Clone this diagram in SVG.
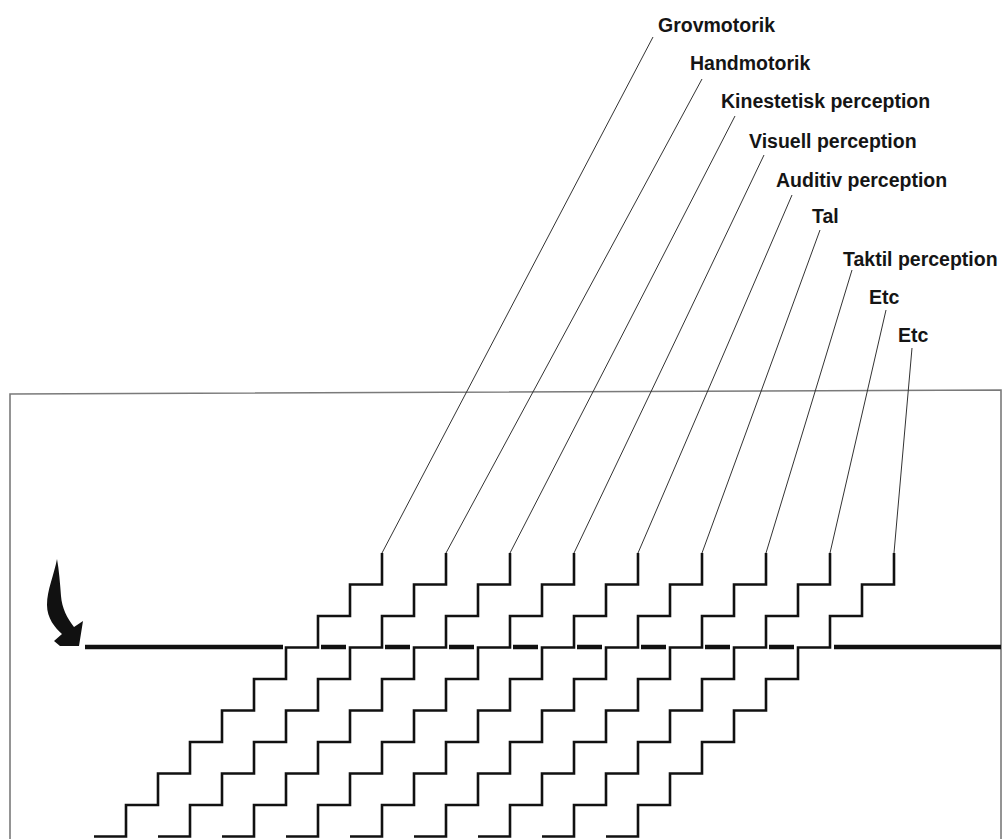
<svg xmlns="http://www.w3.org/2000/svg" xmlns:xlink="http://www.w3.org/1999/xlink" width="1005" height="839" viewBox="0 0 1005 839">
<style>
.lbl{font-family:"Liberation Sans",Arial,sans-serif;font-weight:bold;font-size:19.5px;fill:#151515}
.stair{fill:none;stroke:#111;stroke-width:2.6;stroke-linejoin:miter}
.lead{stroke:#333;stroke-width:1;fill:none}
.thick{stroke:#111;stroke-width:4.5;fill:none}
.frame{stroke:#7a7a7a;stroke-width:1.6;fill:none}
</style>
<defs>
<path id="st" d="M0,553 v31.5 h-32 v31.5 h-32 v31.5 h-32 v31.5 h-32 v31.5 h-32 v31.5 h-32 v31.5 h-32 v31.5 h-32 v31.5 h-32"/>
</defs>
<rect width="1005" height="839" fill="#fff"/>
<g id="frame">
<path class="frame" d="M10,839 V394 L1001,390 V839"/>
</g>
<g id="baseline">
<line class="thick" x1="85" y1="647" x2="283" y2="647"/>
<path class="thick" d="M321,647 h25 M385,647 h25 M449,647 h25 M513,647 h25 M577,647 h25 M641,647 h25 M705,647 h25 M769,647 h25"/>
<line class="thick" x1="834" y1="647" x2="1001" y2="647"/>
</g>
<g id="arrow">
<path fill="#111" d="M57,559 C54,575 47,590 47,605 C47,618 55,628 62,634 L54,641 L60,646 L79,646 L83,621 L74,627 C67,618 62,608 61,596 C60,583 59,570 57,559 Z"/>
</g>
<g id="connectors">
<line class="lead" x1="382" y1="553" x2="653" y2="37"/>
<line class="lead" x1="446" y1="553" x2="702" y2="79"/>
<line class="lead" x1="510" y1="553" x2="735" y2="116"/>
<line class="lead" x1="574" y1="553" x2="764" y2="155"/>
<line class="lead" x1="638" y1="553" x2="792" y2="195"/>
<line class="lead" x1="702" y1="553" x2="820" y2="230"/>
<line class="lead" x1="766" y1="553" x2="852" y2="270"/>
<line class="lead" x1="830" y1="553" x2="886" y2="310"/>
<line class="lead" x1="894" y1="553" x2="912" y2="348"/>
</g>
<g id="n1"><use xlink:href="#st" class="stair" x="382"/><text class="lbl" x="658" y="32">Grovmotorik</text></g>
<g id="n2"><use xlink:href="#st" class="stair" x="446"/><text class="lbl" x="690" y="70">Handmotorik</text></g>
<g id="n3"><use xlink:href="#st" class="stair" x="510"/><text class="lbl" x="721" y="108">Kinestetisk perception</text></g>
<g id="n4"><use xlink:href="#st" class="stair" x="574"/><text class="lbl" x="749" y="148">Visuell perception</text></g>
<g id="n5"><use xlink:href="#st" class="stair" x="638"/><text class="lbl" x="776" y="187">Auditiv perception</text></g>
<g id="n6"><use xlink:href="#st" class="stair" x="702"/><text class="lbl" x="812" y="223">Tal</text></g>
<g id="n7"><use xlink:href="#st" class="stair" x="766"/><text class="lbl" x="843" y="266">Taktil perception</text></g>
<g id="n8"><use xlink:href="#st" class="stair" x="830"/><text class="lbl" x="869" y="304">Etc</text></g>
<g id="n9"><use xlink:href="#st" class="stair" x="894"/><text class="lbl" x="898" y="342">Etc</text></g>
</svg>
